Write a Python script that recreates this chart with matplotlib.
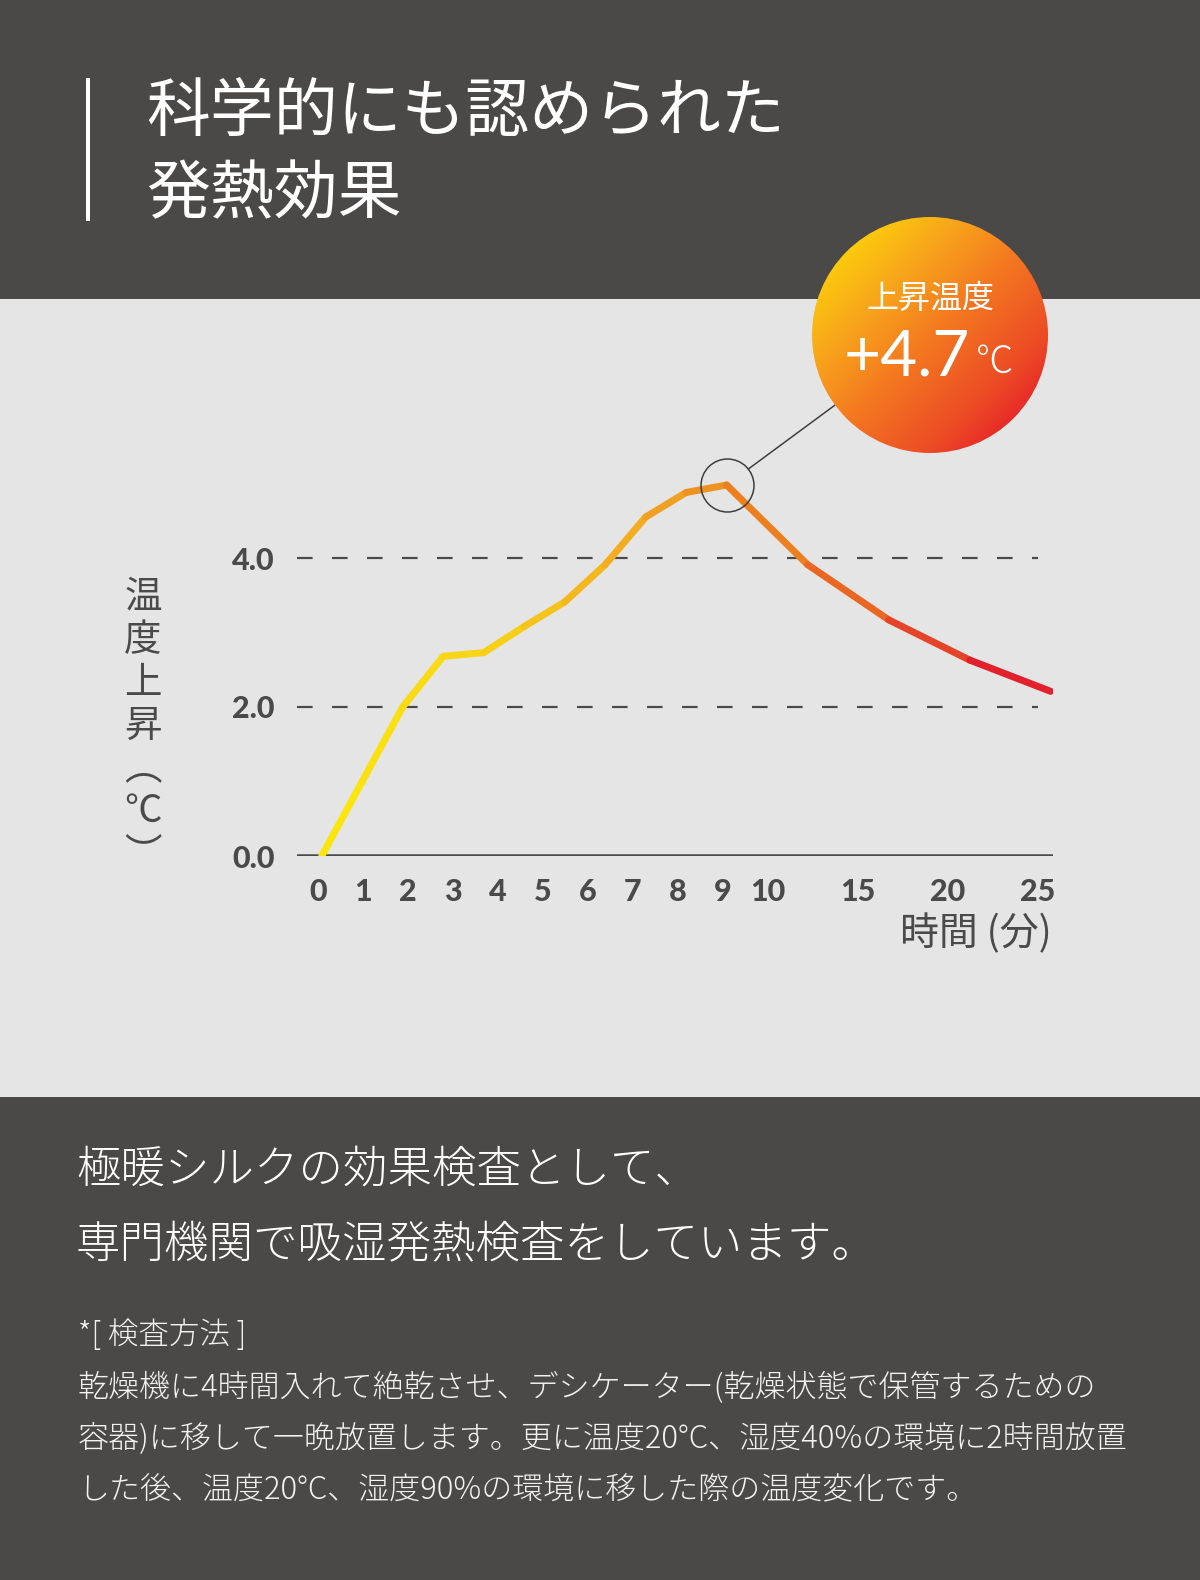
import numpy as np
import matplotlib
matplotlib.use('Agg')
import matplotlib.pyplot as plt
from matplotlib.collections import LineCollection
from matplotlib.colors import LinearSegmentedColormap
from matplotlib.patches import Circle, Rectangle

plt.rcParams['font.family'] = ['Noto Sans CJK JP', 'DejaVu Sans']
plt.rcParams['lines.scale_dashes'] = False

# tick labels of the time axis (minutes) and the slot where each one sits
time_labels = ['0', '1', '2', '3', '4', '5', '6', '7', '8', '9', '10', '15', '20', '25']
tick_slots = [0, 1, 2, 3, 4, 5, 6, 7, 8, 9, 10, 12, 14, 16]

# measured points of the curve (slot on the drawn line, temperature rise in C)
point_slots = [0, 1, 2, 3, 4, 5, 6, 7, 8, 9, 10, 12, 14, 16, 18]
rise = [0.0, 1.0, 2.0, 2.68, 2.73, 3.08, 3.41, 3.91, 4.55, 4.88, 4.98, 3.91, 3.17, 2.63, 2.21]

y_ticks = [0.0, 2.0, 4.0]
y_labels = ['0.0', '2.0', '4.0']

title_lines = ['科学的にも認められた', '発熱効果']
badge_title = '上昇温度'
badge_value = '+4.7'
badge_unit = '℃'
y_title = ['温', '度', '上', '昇', '︵', '℃', '︶']
x_title = '時間 (分)'
body_lines = ['極暖シルクの効果検査として、', '専門機関で吸湿発熱検査をしています。']
note_head = '*[ 検査方法 ]'
note_lines = ['乾燥機に4時間入れて絶乾させ、デシケーター(乾燥状態で保管するための',
              '容器)に移して一晩放置します。更に温度20°C、湿度40%の環境に2時間放置',
              'した後、温度20°C、湿度90%の環境に移した際の温度変化です。']

DARK = '#4a4948'
LIGHT = '#e6e5e5'
INK = '#4a4a4a'
W, H = 1200, 1580
PX = 72 / 100  # points per pixel

fig = plt.figure(figsize=(12, 15.8), dpi=100)

# background bands, in pixel coordinates
bg = fig.add_axes([0, 0, 1, 1], zorder=0)
bg.set_xlim(0, W)
bg.set_ylim(H, 0)
bg.axis('off')
bg.add_patch(Rectangle((0, 0), W, 299, color=DARK, lw=0))
bg.add_patch(Rectangle((0, 299), W, 1097 - 299, color=LIGHT, lw=0))
bg.add_patch(Rectangle((0, 1097), W, H - 1097, color=DARK, lw=0))

# title
bg.plot([88, 88], [78, 221], color='white', lw=4 * PX, solid_capstyle='butt')
bg.text(146, 113, title_lines[0], color='white', fontsize=46, va='center', ha='left')
bg.text(146, 195, title_lines[1], color='white', fontsize=46, va='center', ha='left')

# chart area
left, right, base, top = 296.7, 1053, 856, 856 - 5.5 * 74.5
ax = fig.add_axes([left / W, (H - base) / H, (right - left) / W, (base - top) / H], zorder=1)
ax.patch.set_alpha(0)
ax.set_ylim(0, 5.5)
ax.set_xlim((left - 318) / 45, (right - 318) / 45)
for s in ax.spines.values():
    s.set_visible(False)
ax.set_xticks(tick_slots, labels=time_labels)
ax.set_yticks(y_ticks, labels=y_labels)
ax.tick_params(length=0, colors=INK)
ax.tick_params(axis='y', pad=16)
ax.tick_params(axis='x', pad=16)
for lab in ax.get_xticklabels() + ax.get_yticklabels():
    lab.set_fontfamily(['Lato', 'DejaVu Sans'])
    lab.set_fontweight('black')
    lab.set_fontsize(22)

dash_end = (1038 - left) / (right - left)
for yv in y_ticks[1:]:
    ax.axhline(yv, xmin=0, xmax=dash_end, color=INK, lw=2.2 * PX,
               linestyle=(0, (15.6 * PX, 19.4 * PX)))
ax.axhline(0, color=INK, lw=3.5 * PX, solid_capstyle='butt')

# the curve has its own horizontal scale
ax2 = ax.twiny()
ax2.set_xlim((left - 321.7) / 40.5, (right - 321.7) / 40.5)
ax2.set_ylim(0, 5.5)
ax2.axis('off')

cmap = LinearSegmentedColormap.from_list('heat', [
    (0.0, '#fbe80b'), (0.25, '#f7cf19'), (0.45, '#f1a622'),
    (0.6, '#ec8321'), (0.75, '#e95f24'), (1.0, '#e0102f')])
pts = np.column_stack([point_slots, rise])
segs = np.stack([pts[:-1], pts[1:]], axis=1)
mids = (np.array(point_slots[:-1]) + np.array(point_slots[1:])) / 2 / max(point_slots)
lc = LineCollection(segs, colors=cmap(mids), linewidths=7 * PX,
                    capstyle='round', joinstyle='round')
ax2.add_collection(lc)

ipk = int(np.argmax(rise))
ax2.plot(point_slots[ipk], rise[ipk], 'o', ms=53 * PX, mfc='none', mec='#3c3c3c', mew=1.5 * PX)

# front layer: badge
front = fig.add_axes([0, 0, 1, 1], zorder=3)
front.set_xlim(0, W)
front.set_ylim(H, 0)
front.axis('off')
front.patch.set_alpha(0)

cx, cy, r = 930, 335, 118
ax2.annotate('', xy=(point_slots[ipk], rise[ipk]), xycoords='data',
             xytext=(cx, cy), textcoords=front.transData,
             arrowprops=dict(arrowstyle='-', color='#3c3c3c', lw=1.5 * PX,
                             shrinkA=r * PX, shrinkB=26.7 * PX))

u, v = np.meshgrid(np.linspace(0, 1, 256), np.linspace(0, 1, 256))
grad = (u + v) / 2
bcmap = LinearSegmentedColormap.from_list('badge', [
    (0.0, '#ffea00'), (0.3, '#f8a81a'), (0.5, '#f47a20'), (0.75, '#ec4a25'), (1.0, '#e3002d')])
im = front.imshow(grad, cmap=bcmap, extent=(cx - r, cx + r, cy + r, cy - r),
                  origin='upper', aspect='auto', interpolation='bilinear')
circ = Circle((cx, cy), r, transform=front.transData, facecolor='none', edgecolor='none')
front.add_patch(circ)
im.set_clip_path(circ)
front.set_xlim(0, W)
front.set_ylim(H, 0)

front.text(cx, 299, badge_title, color='white', fontsize=23, ha='center', va='center')
front.text(970, 376, badge_value, color='white', fontsize=46, ha='right', va='baseline',
           family=['Lato', 'DejaVu Sans'], fontweight='normal')
front.text(976, 373, badge_unit, color='white', fontsize=27, ha='left', va='baseline',
           fontweight='light')

# axis titles
bg.text(143, 726, '\n'.join(y_title), color=INK, fontsize=27,
        ha='center', va='center', linespacing=1.13)
bg.text(1052, 934, x_title, color=INK, fontsize=28, ha='right', va='center')

# body text
bg.text(76, 1170, body_lines[0], color='white', fontsize=32, va='center', fontweight='light')
bg.text(76, 1245, body_lines[1], color='white', fontsize=32, va='center', fontweight='light')
bg.text(78, 1335, note_head, color='#f2f2f2', fontsize=22, va='center', fontweight='light')
for i, line in enumerate(note_lines):
    bg.text(78, 1388 + 51 * i, line, color='#f2f2f2', fontsize=22.3, va='center', fontweight='light')

fig.savefig('out.png', dpi=100)
